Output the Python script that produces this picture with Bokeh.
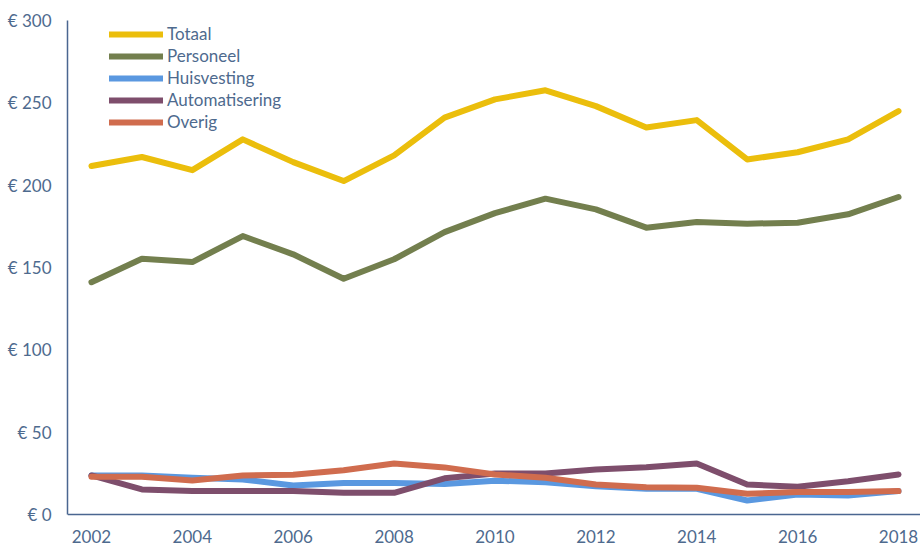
from bokeh.plotting import figure
from bokeh.models import ColumnDataSource, FixedTicker, Legend, LegendItem, Range1d
from bokeh.embed import file_html
from bokeh.resources import INLINE

years = list(range(2002, 2019))
totaal = [211.6, 217.1, 209.1, 227.8, 214.0, 202.5, 218.1, 241.0, 252.1, 257.6, 248.0, 235.0, 239.5, 215.6, 220.0, 227.8, 245.0]
personeel = [141.1, 155.3, 153.3, 169.1, 158.0, 143.2, 155.0, 171.5, 183.0, 191.8, 185.3, 174.2, 177.6, 176.6, 177.2, 182.3, 192.8]
huisvesting = [23.7, 23.7, 22.3, 21.3, 17.6, 19.2, 19.2, 18.5, 20.5, 19.6, 17.2, 15.6, 15.6, 8.5, 12.2, 11.5, 14.2]
automatisering = [23.7, 15.2, 14.2, 14.2, 14.2, 13.2, 13.2, 22.0, 24.9, 24.9, 27.3, 28.7, 31.0, 18.2, 16.8, 20.2, 24.3]
overig = [22.9, 22.9, 20.7, 23.7, 24.1, 26.9, 31.0, 28.6, 24.3, 22.3, 18.2, 16.6, 16.2, 12.6, 13.6, 13.6, 14.2]

series_names = ["Totaal", "Personeel", "Huisvesting", "Automatisering", "Overig"]
series_values = [totaal, personeel, huisvesting, automatisering, overig]
series_colors = ["#EBBE0C", "#737F4E", "#5A98E0", "#7E4E6C", "#D06C4E"]

y_ticks = [0, 50, 100, 150, 200, 250, 300]
y_labels = ["€ 0", "€ 50", "€ 100", "€ 150", "€ 200", "€ 250", "€ 300"]
x_ticks = [2002, 2004, 2006, 2008, 2010, 2012, 2014, 2016, 2018]

FONT = "Lato"
TXT = "#4E6A8E"
AX = "#4A6690"

# frame extends below zero so the x axis (fixed at y=0) has room for its labels
p = figure(width=920, height=548, output_backend="svg", toolbar_location=None,
           x_range=Range1d(2001.525, 2018.436), y_range=Range1d(-20.65, 300),
           min_border_left=67, min_border_right=0, min_border_top=20, min_border_bottom=0)
p.outline_line_color = None
p.xgrid.visible = False
p.ygrid.visible = False

items = []
for name, vals, col in zip(series_names, series_values, series_colors):
    src = ColumnDataSource(dict(x=years, y=vals))
    r = p.line("x", "y", source=src, line_color=col, line_width=6,
               line_cap="round", line_join="round")
    items.append(LegendItem(label=name, renderers=[r]))

for ax in (p.xaxis[0], p.yaxis[0]):
    ax.axis_line_color = AX
    ax.axis_line_width = 1.5
    ax.major_tick_line_color = None
    ax.minor_tick_line_color = None
    ax.major_tick_out = 0
    ax.major_tick_in = 0
    ax.minor_tick_out = 0
    ax.major_label_text_font = FONT
    ax.major_label_text_font_size = "17px"
    ax.major_label_text_color = TXT

p.yaxis[0].ticker = FixedTicker(ticks=y_ticks)
p.yaxis[0].major_label_overrides = {t: l for t, l in zip(y_ticks, y_labels)}
p.yaxis[0].major_label_standoff = 16
p.yaxis[0].bounds = (0, 300)

p.xaxis[0].ticker = FixedTicker(ticks=x_ticks)
p.xaxis[0].fixed_location = 0
p.xaxis[0].major_label_standoff = 16

legend = Legend(items=items, location=(42, 416))
legend.border_line_color = None
legend.background_fill_alpha = 0
legend.padding = 0
legend.margin = 0
legend.spacing = 1
legend.glyph_height = 20
legend.glyph_width = 54
legend.label_height = 20
legend.label_standoff = 4
legend.label_text_font = FONT
legend.label_text_font_size = "17px"
legend.label_text_color = TXT
p.add_layout(legend, "center")

open("out.html", "w").write(file_html(p, INLINE))
